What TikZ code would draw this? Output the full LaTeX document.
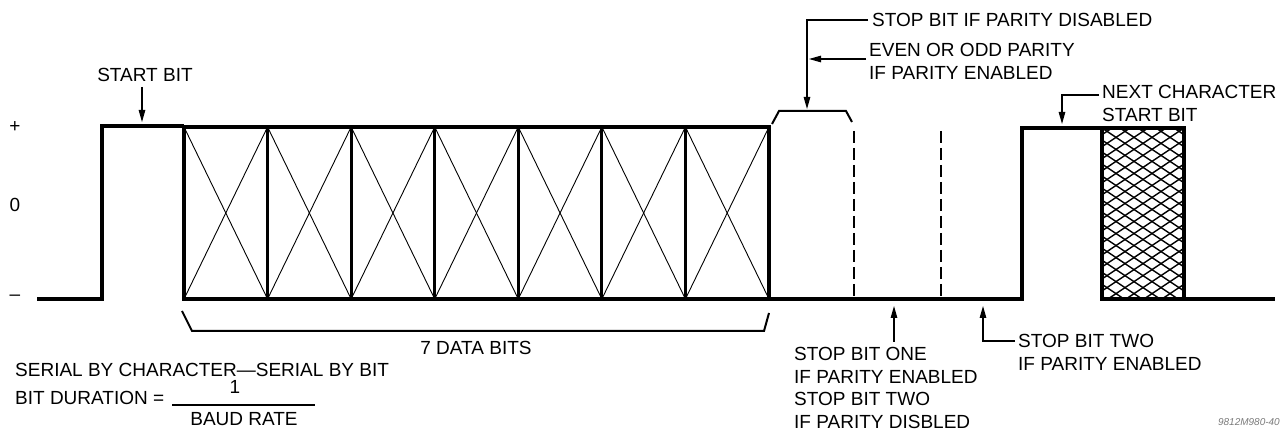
\documentclass[tikz,border=0pt]{standalone}
\usepackage{fontspec}
\setsansfont{Liberation Sans}
\usetikzlibrary{arrows.meta,positioning,calc}
\definecolor{tagtext}{HTML}{7A7A7A}

\begin{document}
\begin{tikzpicture}[x=1pt,y=-1pt,font=\sffamily,
  wave/.style={line width=3.1pt,line join=miter},
  xline/.style={line width=0.9pt},
  hatch/.style={line width=1.4pt},
  brk/.style={line width=2pt},
  dashln/.style={line width=2.6pt,dash pattern=on 12pt off 5pt},
  lead/.style={line width=1.1pt},
  tip/.style={line width=1.1pt,-{Triangle[length=12pt,width=6.5pt]}},
  lab/.style={font=\sffamily\fontsize{19}{22.6}\selectfont,inner sep=0pt,align=left},
  axis/.style={font=\sffamily\fontsize{19}{22}\selectfont,inner sep=0pt},
  tag/.style={font=\sffamily\itshape\fontsize{10}{12}\selectfont,text=tagtext,inner sep=0pt}]
\useasboundingbox (0,0) rectangle (1286,430);

% ===== level marks =====
\node[axis] (plus) at (15,127) {+};
\node[axis] (zero) at (15,205) {0};
\node[axis] (minus) at (15,298) {–};

% ===== start bit + 7 data bits =====
\draw[wave] (37,299) -- (102,299) -- (102,126) -- (184,126);
\foreach \i in {0,...,6}{
  \pgfmathsetmacro{\xa}{184+\i*83.57}\pgfmathsetmacro{\xb}{184+(\i+1)*83.57}
  \draw[xline] (\xa,127) -- (\xb,299);
  \draw[xline] (\xa,299) -- (\xb,127);
  \draw[wave] (\xa,127) rectangle (\xb,299);}

% ===== parity / stop bits =====
\draw[wave] (769,299) -- (1022,299) -- (1022,128) -- (1102,128);
\draw[brk] (772,124) -- (779,111) -- (846,111) -- (852,122);
\draw[dashln] (854,131) -- (854,299);
\draw[dashln] (941,131) -- (941,299);

% ===== next character =====
\begin{scope}
  \clip (1102,128) rectangle (1184,299);
  \foreach \k in {-15,...,5}{
    \draw[hatch] (1102+\k*18,128) -- ++(256,171);
    \draw[hatch] (1184-\k*18,128) -- ++(-256,171);}
\end{scope}
\draw[wave] (1102,128) rectangle (1184,299);
\draw[wave] (1184,299) -- (1275,299);

% ===== data bracket =====
\draw[brk] (182,311) -- (192,331) -- (764,331) -- (769,313);
\node[lab] (databits) at (476,348) {7 DATA BITS};

% ===== top labels =====
\node[lab] (startlbl) at (145,75) {START BIT};
\coordinate (startpt) at (142,122);
\draw[tip] ([yshift=-5pt]startlbl.south -| startpt) -- (startpt);

\node[lab,anchor=west] (stopdis) at (872,20) {STOP BIT IF PARITY DISABLED};
\coordinate (parpt) at (807,109);
\draw[tip] ([xshift=-4pt]stopdis.west) -| (parpt);

\node[lab,anchor=north west] (evenpar) at (869,43) {EVEN OR ODD PARITY\\IF PARITY ENABLED};
\coordinate (evenend) at (866,59);
\coordinate (evenpt) at (809,59);
\draw[tip] (evenend) -- (evenpt);

\node[lab,anchor=north west] (nextch) at (1102,85) {NEXT CHARACTER\\START BIT};
\coordinate (nextend) at (1099,95);
\coordinate (nextpt) at (1062,124);
\draw[tip] (nextend) -| (nextpt);

% ===== bottom labels =====
\node[lab,anchor=north west] (stopone) at (794,347)
  {STOP BIT ONE\\IF PARITY ENABLED\\STOP BIT TWO\\IF PARITY DISBLED};
\coordinate (oneend) at (894,342);
\coordinate (onept) at (894,306);
\draw[tip] (oneend) -- (onept);

\node[lab,anchor=north west] (stoptwo) at (1018,334) {STOP BIT TWO\\IF PARITY ENABLED};
\coordinate (twoend) at (1015,341);
\coordinate (twopt) at (983,306);
\draw[tip] (twoend) -| (twopt);

% ===== notes =====
\node[lab,anchor=west] (serial) at (15,370) {SERIAL BY CHARACTER—SERIAL BY BIT};
\node[lab,anchor=west] (bitdur) at (15,398) {BIT DURATION =};
\coordinate (barend) at (315,405);
\draw[lead] ([xshift=8pt]bitdur.east |- barend) -- (barend);
\node[lab] (one) at (235,387) {1};
\node[lab] (baud) at (244,419) {BAUD RATE};
\node[tag,anchor=east] (figtag) at (1280,422) {9812M980-40};

\end{tikzpicture}
\end{document}
